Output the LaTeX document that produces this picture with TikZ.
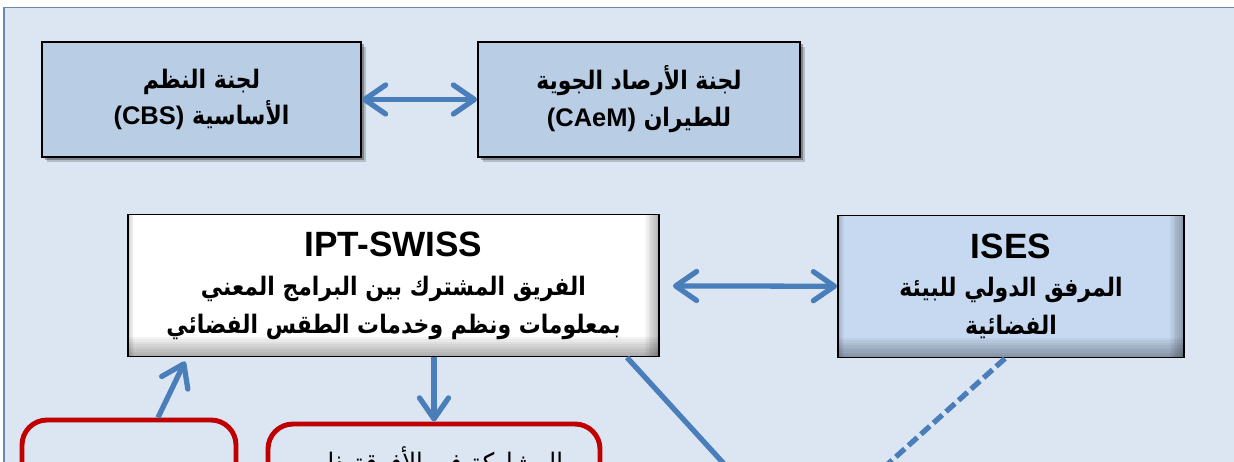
\documentclass[tikz,border=0pt]{standalone}
\usepackage{fontspec}
\setmainfont{Liberation Sans}
\newfontfamily\arabicfont[Script=Arabic,FakeStretch=0.86]{DejaVu Sans}
\TeXXeTstate=1
\usepackage{tikz}
\usetikzlibrary{positioning}
\usetikzlibrary{arrows.meta}
\usetikzlibrary{shadows}
\definecolor{panel}{RGB}{220,230,242}
\definecolor{boxfill}{RGB}{185,205,229}
\definecolor{isesfill}{RGB}{198,217,241}
\definecolor{link}{RGB}{74,126,187}
\definecolor{redline}{RGB}{192,0,0}
\definecolor{frameline}{RGB}{105,135,175}

\newcommand{\arline}[1]{{\arabicfont\beginR #1\endR}}
\newcommand{\ltr}[1]{\beginL{\normalfont\bfseries #1}\endL}

\tikzset{
  committee/.style={draw=black,line width=1.1pt,fill=boxfill,minimum height=2.3cm,align=center,
    font=\fontsize{14.5}{21}\selectfont\bfseries,
    drop shadow={shadow xshift=0.1cm,shadow yshift=-0.1cm,opacity=0.18,fill=black},
    drop shadow={shadow xshift=0.05cm,shadow yshift=-0.05cm,opacity=0.3,fill=black}},
  bevelbox/.style={draw=black,line width=1.1pt,minimum height=2.84cm,align=center,
    font=\fontsize{14.5}{21.5}\selectfont\bfseries,
    path picture={
      \foreach \k in {1,...,8}{
        \fill[black,opacity=0.045] (path picture bounding box.south west) rectangle ([yshift=0.05*\k cm]path picture bounding box.south east);
        \fill[black,opacity=0.04] ([xshift=-0.035*\k cm]path picture bounding box.south east) rectangle (path picture bounding box.north east);
        \fill[black,opacity=0.025] (path picture bounding box.south west) rectangle ([xshift=0.015*\k cm]path picture bounding box.north west);
      }
    }},
  redbox/.style={draw=redline,line width=2.8pt,rounded corners=0.5cm,minimum height=3cm},
  link/.style={draw=link,line width=3pt},
  tip/.style={-{Straight Barb[length=0.42cm,width=0.58cm,round]}},
  twotip/.style={{Straight Barb[length=0.42cm,width=0.58cm,round]}-{Straight Barb[length=0.42cm,width=0.58cm,round]}}
}

\begin{document}
\begin{tikzpicture}
\useasboundingbox (0,0) rectangle (24.68,-9.24);
\clip (0,0) rectangle (24.68,-9.24);
%panel
\fill[white] (0,0) rectangle (24.68,-9.24);
\draw[frameline,line width=0.6pt,fill=panel] (0.08,-0.15) rectangle (26,-11);

%commissions
\node (cbs) at (4.03,-1.99) [committee,minimum width=6.38cm] {\arline{لجنة النظم}\\\arline{الأساسية \ltr{(CBS)}}};
\node (caem) at (12.78,-1.99) [committee,minimum width=6.44cm] {\arline{لجنة الأرصاد الجوية}\\\arline{للطيران \ltr{(CAeM)}}};
\draw [link,twotip] (cbs) -- (caem);

%space weather team and ISES
\node (ipt) at (7.87,-5.71) [bevelbox,fill=white,minimum width=10.62cm] {{\fontsize{20}{23}\selectfont IPT-SWISS}\\[1pt]\arline{الفريق المشترك بين البرامج المعني}\\\arline{بمعلومات ونظم وخدمات الطقس الفضائي}};
\node (ises) at (20.22,-5.73) [bevelbox,fill=isesfill,minimum width=6.92cm] {{\fontsize{20}{23}\selectfont ISES}\\\arline{المرفق الدولي للبيئة}\\\arline{الفضائية}};
\draw [link,twotip,shorten <=0.26cm] (ipt) -- (ises);

%lower boxes
\node (redA) at (2.58,-9.9) [redbox,minimum width=4.28cm] {};
\node (redB) at (8.68,-9.98) [redbox,minimum width=6.64cm] {};
\node (redBtext) at (8.68,-8.8) [anchor=north,font=\fontsize{16}{20}\selectfont] {\arline{المشاركة في الأفرقة ذات}};
\draw [link,tip] ([xshift=0.58cm]redA.north) -- ([xshift=-4.17cm,yshift=-0.08cm]ipt.south);
\draw [link,tip] (redB.north |- ipt.south) -- (redB.north);

%links to the box below
\coordinate (meet) at (15.96,-10.9);
\draw [link] ([xshift=-0.66cm]ipt.south east) -- (meet);
\draw [link,dash pattern=on 6.8pt off 2.8pt] ([xshift=-0.12cm]ises.south) -- (meet);
\end{tikzpicture}
\end{document}
